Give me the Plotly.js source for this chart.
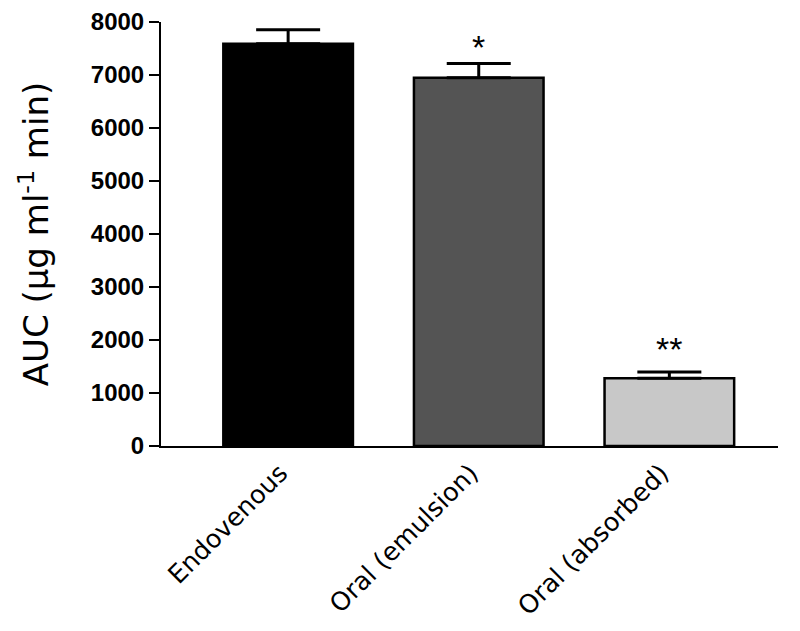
<!DOCTYPE html>
<html>
<head>
<meta charset="utf-8">
<script src="https://cdn.plot.ly/plotly-3.0.1.min.js"></script>
<style>html,body{margin:0;padding:0;background:#fff;}</style>
</head>
<body>
<div id="chart" style="width:800px;height:631px;"></div>
<script>
const categories = ["Endovenous", "Oral (emulsion)", "Oral (absorbed)"];
const auc = [7590, 6950, 1280];
const sem = [265, 265, 115];
const stars = ["", "*", "**"];
const barColors = ["#000000", "#545454", "#c8c8c8"];
const yTicks = [0, 1000, 2000, 3000, 4000, 5000, 6000, 7000, 8000];
const starShift = [0, -4, 2];

const trace = {
  type: "bar",
  x: categories,
  y: auc,
  width: 0.68,
  marker: {color: barColors, line: {color: "#000", width: 2.5}},
  error_y: {type: "data", array: sem, arrayminus: sem.map(() => 0), symmetric: false,
            color: "#000", thickness: 3, width: 32},
  hoverinfo: "none"
};

const annotations = categories.map((c, i) => ({
  x: c, y: auc[i] + sem[i], text: stars[i], showarrow: false,
  xref: "x", yref: "y", yanchor: "bottom", yshift: starShift[i],
  font: {family: "Liberation Sans, Arial, sans-serif", size: 34, color: "#000"}
})).filter(a => a.text);

const layout = {
  width: 800, height: 631,
  margin: {l: 161, r: 22, t: 22, b: 185},
  paper_bgcolor: "#fff", plot_bgcolor: "#fff",
  showlegend: false,
  font: {family: "Liberation Sans, Arial, sans-serif", color: "#000"},
  xaxis: {
    type: "category", range: [-0.667, 2.57],
    showline: true, linewidth: 2, linecolor: "#000",
    ticks: "", tickangle: -45, ticklabelshift: -8, ticklabelstandoff: 0,
    tickfont: {family: "DejaVu Sans, Verdana, sans-serif", size: 25.5, color: "#000"},
    showgrid: false, zeroline: false, fixedrange: true
  },
  yaxis: {
    range: [0, 8000], tickvals: yTicks, ticktext: yTicks.map(String),
    showline: true, linewidth: 2, linecolor: "#000",
    ticks: "outside", ticklen: 10, tickwidth: 2, tickcolor: "#000",
    tickfont: {family: "Liberation Sans, Arial, sans-serif", size: 24, color: "#000", weight: "bold"},
    showgrid: false, zeroline: false,
    title: {text: "AUC (μg ml<sup>-1</sup> min)", standoff: 32,
            font: {family: "DejaVu Sans, Verdana, sans-serif", size: 34, color: "#000"}}
  },
  annotations: annotations,
  bargap: 0.32
};

Plotly.newPlot("chart", [trace], layout, {displayModeBar: false, staticPlot: true});
</script>
</body>
</html>
